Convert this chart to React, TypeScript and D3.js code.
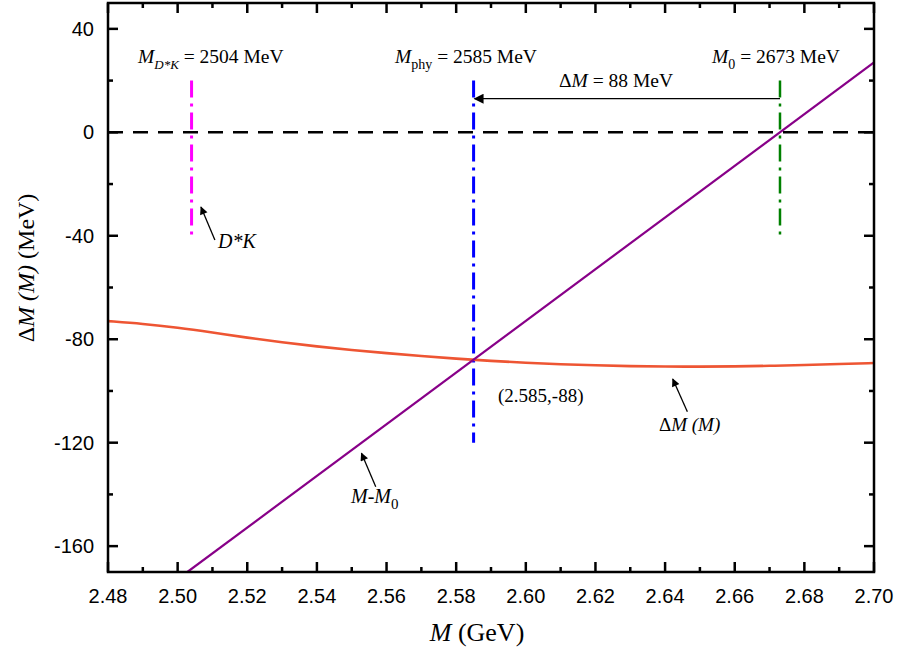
import React from "react";
import * as d3 from "d3";

const W = 900, H = 653;
const M = { left: 108, right: 874, top: 3, bottom: 572 };

// ΔM(M) curve (M in GeV, ΔM in MeV)
const curveM = [2.48, 2.49, 2.50, 2.51, 2.52, 2.53, 2.54, 2.55, 2.56, 2.57, 2.58, 2.59, 2.60, 2.61, 2.62, 2.63, 2.64, 2.65, 2.66, 2.67, 2.68, 2.69, 2.70];
const curveDM = [-73.0, -74.0, -75.5, -77.4, -79.4, -81.2, -82.8, -84.2, -85.4, -86.5, -87.5, -88.4, -89.1, -89.7, -90.1, -90.4, -90.6, -90.6, -90.5, -90.3, -90.0, -89.6, -89.2];

// M - M0 line endpoints
const lineM = [2.5028, 2.70];
const lineDM = [-170, 27];

// vertical markers
const vMarkX = [2.504, 2.585, 2.673];
const vMarkTop = [20, 20, 20];
const vMarkBot = [-40, -120, -40];
const vMarkColor = ["#FF00FF", "#0000FF", "#008000"];
const vMarkWidth = [3, 3, 2.5];

const xTicks = [2.48, 2.50, 2.52, 2.54, 2.56, 2.58, 2.60, 2.62, 2.64, 2.66, 2.68, 2.70];
const xMinor = [2.49, 2.51, 2.53, 2.55, 2.57, 2.59, 2.61, 2.63, 2.65, 2.67, 2.69];
const yTicks = [40, 0, -40, -80, -120, -160];
const yMinor = [20, -20, -60, -100, -140];

export default function App() {
  const x = d3.scaleLinear().domain([2.48, 2.70]).range([M.left, M.right]);
  const y = d3.scaleLinear().domain([-170, 50]).range([M.bottom, M.top]);

  const line = d3.line<[number, number]>()
    .x(d => x(d[0]))
    .y(d => y(d[1]))
    .curve(d3.curveBasis);
  const curvePts: [number, number][] = curveM.map((m, i) => [m, curveDM[i]]);
  const straightPts: [number, number][] = lineM.map((m, i) => [m, lineDM[i]]);

  const serif = "'Liberation Serif', 'Times New Roman', Times, 'DejaVu Serif', serif";
  const sans = "'Liberation Sans', Arial, sans-serif";

  const arrow = (x1: number, y1: number, x2: number, y2: number, key: string) => (
    <line key={key} x1={x(x1)} y1={y(y1)} x2={x(x2)} y2={y(y2)} stroke="#000" strokeWidth={1.3} markerEnd="url(#ah)" />
  );

  return (
    <svg width={W} height={H} style={{ position: "absolute", left: 0, top: 0, background: "#fff" }}>
      <defs>
        <marker id="ah" viewBox="0 0 10 10" refX="9" refY="5" markerWidth="10" markerHeight="8" markerUnits="userSpaceOnUse" orient="auto">
          <path d="M0,0 L10,5 L0,10 z" fill="#000" />
        </marker>
        <marker id="ah2" viewBox="0 0 10 10" refX="9" refY="5" markerWidth="14" markerHeight="10" markerUnits="userSpaceOnUse" orient="auto">
          <path d="M0,0 L10,5 L0,10 z" fill="#000" />
        </marker>
        <clipPath id="plot">
          <rect x={M.left} y={M.top} width={M.right - M.left} height={M.bottom - M.top} />
        </clipPath>
      </defs>

      {/* zero dashed line */}
      <line x1={x(2.48)} x2={x(2.70)} y1={y(0)} y2={y(0)} stroke="#000" strokeWidth={2.5} strokeDasharray="15,10" />

      {/* vertical markers */}
      {vMarkX.map((v, i) => (
        <line key={"v" + i} x1={x(v)} x2={x(v)} y1={y(vMarkTop[i])} y2={y(vMarkBot[i])}
          stroke={vMarkColor[i]} strokeWidth={vMarkWidth[i]} strokeDasharray="17,6,3,6" />
      ))}

      <g clipPath="url(#plot)">
        <path d={line(curvePts) || ""} fill="none" stroke="#EE5533" strokeWidth={2.6} />
        <path d={d3.line<[number, number]>().x(d => x(d[0])).y(d => y(d[1]))(straightPts) || ""} fill="none" stroke="#880088" strokeWidth={2.2} />
      </g>

      {/* ΔM arrow */}
      <line x1={x(2.673)} y1={y(13)} x2={x(2.585) + 1} y2={y(13)} stroke="#000" strokeWidth={1.3} markerEnd="url(#ah2)" />

      {/* annotation arrows */}
      {arrow(2.5107, -41.6, 2.5067, -28.9, "a1")}
      {arrow(2.6464, -108.0, 2.6422, -95.4, "a2")}
      {arrow(2.5569, -137.0, 2.5528, -124.1, "a3")}

      {/* frame */}
      <rect x={M.left} y={M.top} width={M.right - M.left} height={M.bottom - M.top} fill="none" stroke="#000" strokeWidth={2.5} />

      {/* ticks */}
      <g stroke="#000" strokeWidth={2.5}>
        {xTicks.map(t => (
          <g key={"xt" + t}>
            <line x1={x(t)} x2={x(t)} y1={M.bottom} y2={M.bottom - 10} />
            <line x1={x(t)} x2={x(t)} y1={M.top} y2={M.top + 10} />
          </g>
        ))}
        {xMinor.map(t => (
          <g key={"xm" + t}>
            <line x1={x(t)} x2={x(t)} y1={M.bottom} y2={M.bottom - 5} />
            <line x1={x(t)} x2={x(t)} y1={M.top} y2={M.top + 5} />
          </g>
        ))}
        {yTicks.map(t => (
          <g key={"yt" + t}>
            <line x1={M.left} x2={M.left + 10} y1={y(t)} y2={y(t)} />
            <line x1={M.right} x2={M.right - 10} y1={y(t)} y2={y(t)} />
          </g>
        ))}
        {yMinor.map(t => (
          <g key={"ym" + t}>
            <line x1={M.left} x2={M.left + 5} y1={y(t)} y2={y(t)} />
            <line x1={M.right} x2={M.right - 5} y1={y(t)} y2={y(t)} />
          </g>
        ))}
      </g>

      {/* tick labels */}
      <g fontFamily={sans} fontSize={20} fill="#000">
        {xTicks.map(t => (
          <text key={"xl" + t} x={x(t)} y={M.bottom + 31} textAnchor="middle">{t.toFixed(2)}</text>
        ))}
        {yTicks.map(t => (
          <text key={"yl" + t} x={94} y={y(t) + 7} textAnchor="end">{t}</text>
        ))}
      </g>

      {/* axis titles */}
      <text x={477} y={641} textAnchor="middle" fontFamily={serif} fontSize={26}>
        <tspan fontStyle="italic">M</tspan> (GeV)
      </text>
      <text transform="translate(34,268) rotate(-90)" textAnchor="middle" fontFamily={serif} fontSize={24}>
        Δ<tspan fontStyle="italic">M (M)</tspan> (MeV)
      </text>

      {/* labels */}
      <g fontFamily={serif} fontSize={19.5} fill="#000">
        <text x={138} y={63}>
          <tspan fontStyle="italic">M</tspan>
          <tspan fontStyle="italic" fontSize={13} dy={6}>D*K</tspan>
          <tspan dy={-6}> = 2504 MeV</tspan>
        </text>
        <text x={395} y={63}>
          <tspan fontStyle="italic">M</tspan>
          <tspan fontSize={14} dy={6}>phy</tspan>
          <tspan dy={-6}> = 2585 MeV</tspan>
        </text>
        <text x={712} y={63}>
          <tspan fontStyle="italic">M</tspan>
          <tspan fontSize={14} dy={6}>0</tspan>
          <tspan dy={-6}> = 2673 MeV</tspan>
        </text>
        <text x={559} y={87}>
          Δ<tspan fontStyle="italic">M</tspan> = 88 MeV
        </text>
        <text x={218} y={248} fontStyle="italic" fontSize={20}>D*K</text>
        <text x={659} y={431} fontSize={19}>
          Δ<tspan fontStyle="italic">M (M)</tspan>
        </text>
        <text x={351} y={503} fontStyle="italic" fontSize={20}>
          M-M<tspan fontStyle="normal" fontSize={15} dy={6}>0</tspan>
        </text>
        <text x={498} y={402} fontSize={19}>(2.585,-88)</text>
      </g>
    </svg>
  );
}
